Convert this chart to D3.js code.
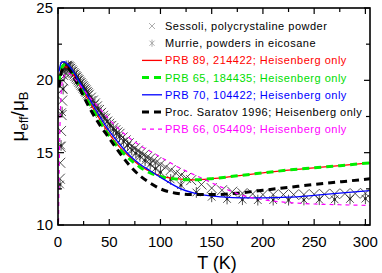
<!DOCTYPE html>
<html>
<head>
<meta charset="utf-8">
<script src="https://cdn.jsdelivr.net/npm/d3@7"></script>
<style>
  html, body { margin: 0; padding: 0; background: #ffffff; }
  svg { display: block; }
</style>
</head>
<body>
<div id="chart"></div>
<script>

// data (T in K, mu_eff / mu_B)

const xTicks = [0, 50, 100, 150, 200, 250, 300];
const yTicks = [10, 15, 20, 25];

const sessoliT = [1.8, 2.2, 2.6, 3, 3.5, 4, 4.5, 5, 6, 7, 8, 9, 10, 11, 12, 13, 14, 15, 16, 17, 18, 19, 20,
  21, 22, 23, 24, 25, 26, 27, 28, 29, 30, 32, 34, 36, 38, 40, 42, 44, 46, 48, 50, 52, 54, 56, 58, 60,
  63, 66, 69, 72, 75, 78, 81, 84, 87, 90, 93, 96, 100, 105, 110, 115, 120, 125, 130, 140, 150, 160,
  170, 180, 190, 200, 210, 220, 230, 240, 250, 260, 270, 280, 290, 300];
const sessoliMu = [13.2, 14.3, 15.4, 16.5, 17.6, 18.6, 19.4, 20.0, 20.6, 20.9, 21.0, 21.0, 20.95, 20.9, 20.8,
  20.7, 20.6, 20.5, 20.4, 20.3, 20.2, 20.1, 20.0, 19.9, 19.8, 19.7, 19.6, 19.5, 19.4, 19.3, 19.2, 19.1,
  19.0, 18.8, 18.6, 18.4, 18.2, 17.95, 17.75, 17.55, 17.35, 17.15, 17.0, 16.85, 16.7, 16.55, 16.4, 16.3,
  16.05, 15.85, 15.65, 15.45, 15.3, 15.15, 15.0, 14.85, 14.7, 14.6, 14.45, 14.35, 14.2, 14.0, 13.8, 13.6,
  13.45, 13.25, 13.1, 12.8, 12.55, 12.4, 12.3, 12.2, 12.15, 12.1, 12.1, 12.1, 12.1, 12.1, 12.12, 12.13,
  12.15, 12.17, 12.18, 12.2];

const murrieT = [2, 3, 4, 5, 6, 7, 8, 10, 12, 14, 16, 18, 20, 22, 24, 26, 28, 30, 33, 36, 39, 42, 45, 48, 51,
  54, 57, 60, 64, 68, 72, 76, 80, 85, 90, 95, 100, 110, 120, 135, 150, 165, 180, 195, 210, 225, 240, 255,
  270, 285, 300];
const murrieMu = [12.8, 15.5, 17.8, 19.4, 20.3, 20.8, 21.0, 21.0, 20.85, 20.65, 20.45, 20.25, 20.05, 19.85,
  19.6, 19.4, 19.2, 19.0, 18.65, 18.35, 18.05, 17.75, 17.45, 17.15, 16.9, 16.6, 16.35, 16.1, 15.8, 15.5,
  15.2, 14.95, 14.75, 14.45, 14.2, 13.9, 13.65, 13.15, 12.75, 12.25, 11.95, 11.8, 11.75, 11.72, 11.72, 11.72,
  11.73, 11.75, 11.77, 11.8, 11.82];

const prb89T = [1, 3, 6, 9, 15, 20, 30, 40, 50, 60, 70, 80, 90, 100, 115, 130, 150, 175, 200, 225, 250, 275, 305];
const prb89Mu = [19.8, 20.7, 20.95, 20.9, 20.4, 19.8, 18.6, 17.4, 16.3, 15.4, 14.7, 14.1, 13.7, 13.4, 13.2,
  13.12, 13.2, 13.4, 13.6, 13.8, 13.95, 14.1, 14.3];

const prb65T = [1, 3, 6, 9, 15, 20, 30, 40, 50, 60, 70, 80, 90, 100, 115, 130, 150, 175, 200, 225, 250, 275, 305];
const prb65Mu = [19.9, 20.8, 21.05, 20.95, 20.4, 19.75, 18.45, 17.25, 16.15, 15.25, 14.55, 14.0, 13.6, 13.35,
  13.18, 13.12, 13.2, 13.4, 13.6, 13.8, 13.95, 14.1, 14.3];

const prb70T = [1, 3, 6, 9, 15, 20, 30, 40, 50, 60, 70, 80, 90, 100, 120, 140, 160, 180, 200, 225, 250, 275, 305];
const prb70Mu = [20.6, 21.2, 21.3, 21.15, 20.6, 20.0, 18.8, 17.6, 16.5, 15.6, 14.8, 14.2, 13.75, 13.3, 12.5,
  12.1, 11.95, 11.88, 11.87, 11.92, 12.05, 12.2, 12.38];

const saratovT = [1, 3, 6, 9, 15, 20, 30, 40, 50, 60, 70, 80, 90, 100, 115, 130, 150, 175, 200, 225, 250, 275, 305];
const saratovMu = [19.5, 20.5, 20.85, 20.85, 20.3, 19.6, 18.2, 17.0, 16.0, 15.0, 14.1, 13.4, 12.9, 12.5, 12.2,
  12.1, 12.1, 12.2, 12.4, 12.6, 12.8, 12.98, 13.2];

const prb66T = [0.5, 2, 4, 7, 10, 15, 20, 30, 40, 50, 60, 70, 80, 90, 100, 120, 140, 160, 180, 200, 225, 250, 275, 305];
const prb66Mu = [10.2, 17, 19.8, 20.4, 20.5, 20.2, 19.8, 18.9, 18.1, 17.3, 16.6, 16.0, 15.5, 15.1, 14.7, 13.9,
  13.25, 12.6, 12.05, 11.75, 11.55, 11.45, 11.4, 11.35];

const legendLabels = [
  "Sessoli, polycrystaline powder",
  "Murrie, powders in eicosane",
  "PRB 89, 214422; Heisenberg only",
  "PRB 65, 184435; Heisenberg only",
  "PRB 70, 104422; Heisenberg only",
  "Proc. Saratov 1996; Heisenberg only",
  "PRB 66, 054409; Heisenberg only"
];



//--------------------------------------
// SETUP
//--------------------------------------

const W = 382, H = 273;
const plot = { left: 58, right: 370, top: 8, bottom: 225 };
const fontFamily = "Helvetica, Arial, 'Liberation Sans', sans-serif";

const svg = d3.select("#chart").append("svg")
  .attr("width", W)
  .attr("height", H);

const x = d3.scaleLinear().domain([0, 304.5]).range([plot.left, plot.right]);
const y = d3.scaleLinear().domain([10, 25]).range([plot.bottom, plot.top]);

svg.append("clipPath").attr("id", "clip")
  .append("rect")
  .attr("x", plot.left).attr("y", plot.top)
  .attr("width", plot.right - plot.left)
  .attr("height", plot.bottom - plot.top);



//--------------------------------------
// MARKERS
//--------------------------------------

function crossPath(cx, cy, r) {
  return "M" + (cx - r) + "," + (cy - r) + "L" + (cx + r) + "," + (cy + r) +
    "M" + (cx - r) + "," + (cy + r) + "L" + (cx + r) + "," + (cy - r);
}

function starPath(cx, cy, r) {
  return crossPath(cx, cy, r * 0.85) + "M" + cx + "," + (cy - r * 1.2) + "L" + cx + "," + (cy + r * 1.2);
}

const markers = svg.append("g").attr("clip-path", "url(#clip)");

markers.selectAll("path.sessoli")
  .data(d3.zip(sessoliT, sessoliMu))
  .enter()
  .append("path")
  .attr("class", "sessoli")
  .attr("d", function(d) { return crossPath(x(d[0]), y(d[1]), 5); })
  .attr("fill", "none")
  .attr("stroke", "#222")
  .attr("stroke-width", 0.8);

let murrie = markers.selectAll("g.murrie")
  .data(d3.zip(murrieT, murrieMu))
  .enter()
  .append("g")
  .attr("class", "murrie");

murrie.append("path")
  .attr("d", function(d) { return starPath(x(d[0]), y(d[1]), 4.5); })
  .attr("fill", "none")
  .attr("stroke", "#222")
  .attr("stroke-width", 0.8);

murrie.append("circle")
  .attr("cx", function(d) { return x(d[0]); })
  .attr("cy", function(d) { return y(d[1]); })
  .attr("r", 1.3)
  .attr("fill", "#222");



//--------------------------------------
// CURVES
//--------------------------------------

const curves = [
  { t: prb89T, mu: prb89Mu, color: "#ff0000", width: 1.3, dash: null },
  { t: prb65T, mu: prb65Mu, color: "#00ee00", width: 3, dash: "7,5" },
  { t: prb70T, mu: prb70Mu, color: "#0000ff", width: 1.3, dash: null },
  { t: saratovT, mu: saratovMu, color: "#000000", width: 3, dash: "7,5" },
  { t: prb66T, mu: prb66Mu, color: "#ff00ff", width: 1.2, dash: "4,4" }
];

const line = d3.line()
  .x(function(d) { return x(d[0]); })
  .y(function(d) { return y(d[1]); })
  .curve(d3.curveMonotoneX);

const curveLayer = svg.append("g").attr("clip-path", "url(#clip)");

curves.forEach(function(c) {
  curveLayer.append("path")
    .attr("d", line(d3.zip(c.t, c.mu)))
    .attr("fill", "none")
    .attr("stroke", c.color)
    .attr("stroke-width", c.width)
    .attr("stroke-dasharray", c.dash);
});



//--------------------------------------
// AXES (box with inward ticks)
//--------------------------------------

const axes = svg.append("g");

const xMinor = d3.range(0, 305, 25);
const yMinor = d3.range(10, 25.01, 2.5);

axes.selectAll("line.xtb")
  .data(xMinor).enter().append("line")
  .attr("x1", function(d) { return x(d); })
  .attr("x2", function(d) { return x(d); })
  .attr("y1", plot.bottom)
  .attr("y2", function(d) { return plot.bottom - (d % 50 === 0 ? 6 : 4); })
  .attr("stroke", "#000").attr("stroke-width", 1.2);

axes.selectAll("line.xtt")
  .data(xMinor).enter().append("line")
  .attr("x1", function(d) { return x(d); })
  .attr("x2", function(d) { return x(d); })
  .attr("y1", plot.top)
  .attr("y2", function(d) { return plot.top + (d % 50 === 0 ? 6 : 4); })
  .attr("stroke", "#000").attr("stroke-width", 1.2);

axes.selectAll("line.ytl")
  .data(yMinor).enter().append("line")
  .attr("y1", function(d) { return y(d); })
  .attr("y2", function(d) { return y(d); })
  .attr("x1", plot.left)
  .attr("x2", function(d) { return plot.left + (d % 5 === 0 ? 6 : 4); })
  .attr("stroke", "#000").attr("stroke-width", 1.2);

axes.selectAll("line.ytr")
  .data(yMinor).enter().append("line")
  .attr("y1", function(d) { return y(d); })
  .attr("y2", function(d) { return y(d); })
  .attr("x1", plot.right)
  .attr("x2", function(d) { return plot.right - (d % 5 === 0 ? 6 : 4); })
  .attr("stroke", "#000").attr("stroke-width", 1.2);

axes.append("rect")
  .attr("x", plot.left).attr("y", plot.top)
  .attr("width", plot.right - plot.left)
  .attr("height", plot.bottom - plot.top)
  .attr("fill", "none")
  .attr("stroke", "#000")
  .attr("stroke-width", 1.6);

axes.selectAll("text.xl")
  .data(xTicks).enter().append("text")
  .attr("x", function(d) { return x(d); })
  .attr("y", plot.bottom + 22)
  .attr("text-anchor", "middle")
  .attr("font-family", fontFamily)
  .attr("font-size", 15)
  .text(function(d) { return d; });

axes.selectAll("text.yl")
  .data(yTicks).enter().append("text")
  .attr("x", plot.left - 5)
  .attr("y", function(d) { return y(d) + 5; })
  .attr("text-anchor", "end")
  .attr("font-family", fontFamily)
  .attr("font-size", 15)
  .text(function(d) { return d; });

axes.append("text")
  .attr("x", (plot.left + plot.right) / 2 + 3)
  .attr("y", 269)
  .attr("text-anchor", "middle")
  .attr("font-family", fontFamily)
  .attr("font-size", 18)
  .text("T  (K)");

let yTitle = axes.append("text")
  .attr("transform", "translate(24," + ((plot.top + plot.bottom) / 2) + ") rotate(-90)")
  .attr("text-anchor", "middle")
  .attr("font-family", fontFamily)
  .attr("font-size", 19);
yTitle.append("tspan").text("μ");
yTitle.append("tspan").attr("font-size", 13).attr("dy", 4).text("eff");
yTitle.append("tspan").attr("dy", -4).text("/μ");
yTitle.append("tspan").attr("font-size", 13).attr("dy", 4).text("B");



//--------------------------------------
// LEGEND
//--------------------------------------

const legendColors = ["#000", "#000", "#ff0000", "#00dd00", "#0000ff", "#000", "#ff00ff"];
const legend = svg.append("g");
const rowY = function(i) { return 26 + i * 17.2; };

legend.selectAll("text")
  .data(legendLabels).enter().append("text")
  .attr("x", 165)
  .attr("y", function(d, i) { return rowY(i) + 4; })
  .attr("font-family", fontFamily)
  .attr("font-size", 11)
  .attr("letter-spacing", 0.5)
  .attr("fill", function(d, i) { return legendColors[i]; })
  .text(function(d) { return d; });

legend.append("path")
  .attr("d", crossPath(152, rowY(0), 3))
  .attr("stroke", "#999").attr("stroke-width", 0.8).attr("fill", "none");
legend.append("path")
  .attr("d", starPath(152, rowY(1), 3))
  .attr("stroke", "#999").attr("stroke-width", 0.8).attr("fill", "none");

curves.forEach(function(c, i) {
  legend.append("line")
    .attr("x1", 142).attr("x2", 162)
    .attr("y1", rowY(i + 2)).attr("y2", rowY(i + 2))
    .attr("stroke", c.color)
    .attr("stroke-width", c.width)
    .attr("stroke-dasharray", c.dash);
});

</script>
</body>
</html>
